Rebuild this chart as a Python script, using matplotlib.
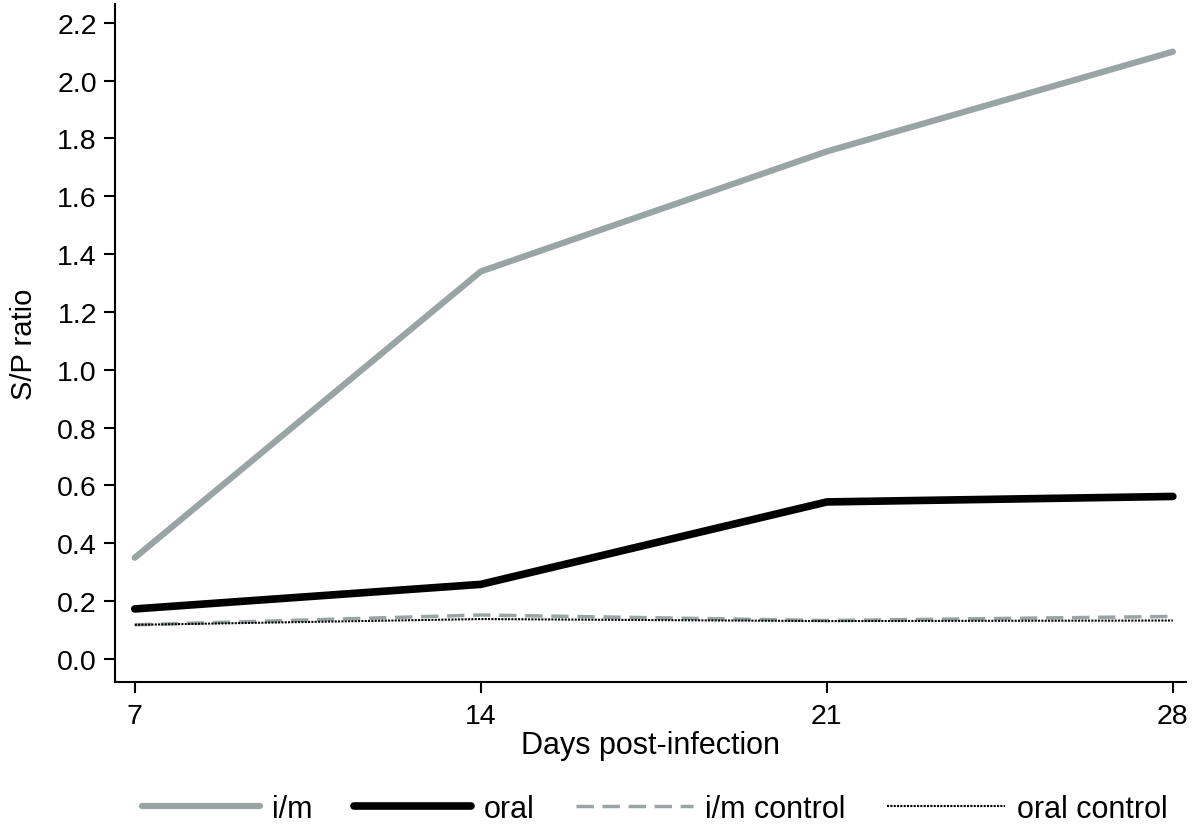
import matplotlib
matplotlib.use("Agg")
import matplotlib.pyplot as plt

plt.rcParams["font.family"] = ["Liberation Sans", "DejaVu Sans"]

days = [7, 14, 21, 28]
im_vals = [0.35, 1.34, 1.755, 2.10]
oral_vals = [0.173, 0.258, 0.543, 0.562]
im_ctrl_vals = [0.118, 0.152, 0.133, 0.147]
oral_ctrl_vals = [0.118, 0.138, 0.131, 0.133]

y_ticks = [0.0, 0.2, 0.4, 0.6, 0.8, 1.0, 1.2, 1.4, 1.6, 1.8, 2.0, 2.2]

gray = "#99a4a4"

fig = plt.figure(figsize=(11.95, 8.28), dpi=100)
ax = fig.add_axes([0.0962, 0.175, 0.896, 0.819])

ax.plot(days, im_vals, color=gray, lw=4.5, solid_capstyle="round", label="i/m")
ax.plot(days, oral_vals, color="black", lw=5.5, solid_capstyle="round", label="oral")
ax.plot(days, im_ctrl_vals, color=gray, lw=2.5, dashes=(5, 2.5), label="i/m control")
ax.plot(days, oral_ctrl_vals, color="black", lw=1.5, dashes=(1, 0.6), label="oral control")

ax.set_xlim(6.6, 28.26)
ax.set_ylim(-0.08, 2.265)
ax.set_xticks(days)
ax.set_yticks(y_ticks)
ax.set_yticklabels([f"{v:.1f}" for v in y_ticks])

for s in ["top", "right"]:
    ax.spines[s].set_visible(False)
for s in ["left", "bottom"]:
    ax.spines[s].set_linewidth(1.5)
ax.tick_params(axis="both", direction="out", length=8, width=1.5, labelsize=20.5)
ax.tick_params(axis="y", pad=5)
ax.tick_params(axis="x", pad=7)

ax.set_ylabel("S/P ratio", fontsize=21, labelpad=14)
ax.set_xlabel("Days post-infection", fontsize=22, labelpad=1)

fig.legend(loc="center", ncol=4, frameon=False, bbox_to_anchor=(0.548, 0.022),
           prop={"size": 22}, handlelength=3.85, columnspacing=1.35,
           handletextpad=0.4, borderpad=0, borderaxespad=0)

fig.savefig("out.png", dpi=100)
